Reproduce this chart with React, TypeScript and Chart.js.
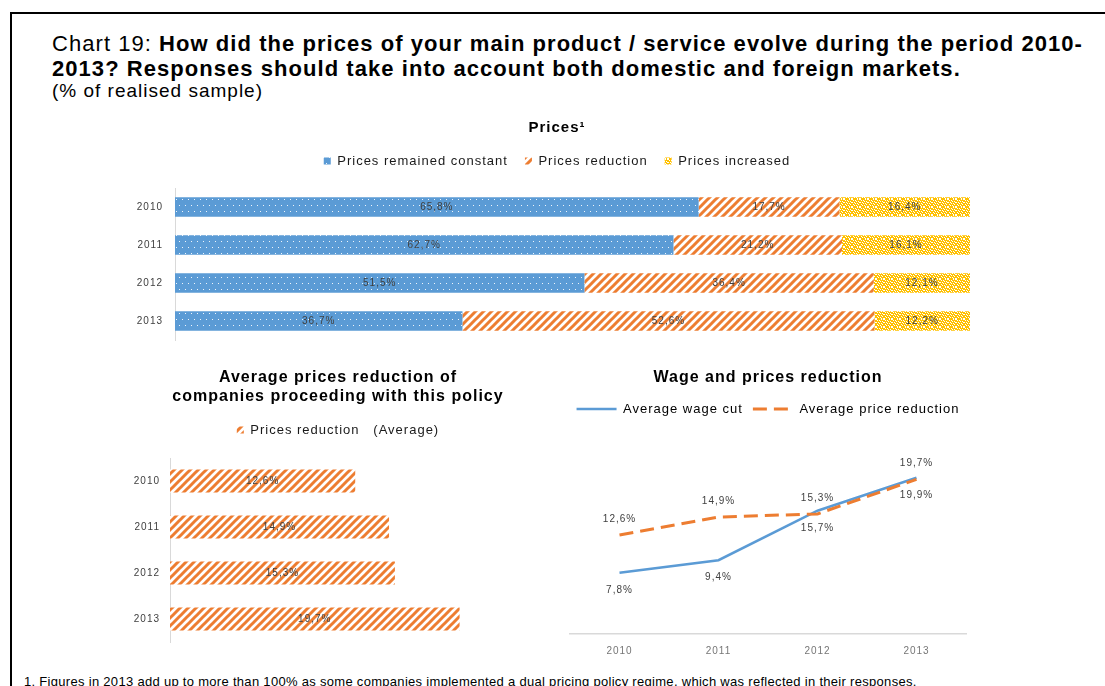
import React, { useEffect, useRef } from "react";
import { Chart, registerables } from "chart.js";

Chart.register(...registerables);

const FONT = "'Liberation Sans', Arial, Helvetica, sans-serif";
Chart.defaults.font.family = FONT;

// ---------- data ----------
const years = ["2010", "2011", "2012", "2013"];
const priceSeriesNames = ["Prices remained constant", "Prices reduction", "Prices increased"];
const pricesConstant = [65.8, 62.7, 51.5, 36.7];
const pricesReduction = [17.7, 21.2, 36.4, 52.6];
const pricesIncreased = [16.4, 16.1, 12.1, 12.2];

const avgSeriesName = "Prices reduction   (Average)";
const avgPriceReduction = [12.6, 14.9, 15.3, 19.7];

const lineSeriesNames = ["Average wage cut", "Average price reduction"];
const avgWageCut = [7.8, 9.4, 15.7, 19.9];
const avgPriceCut = [12.6, 14.9, 15.3, 19.7];

// ---------- styles ----------
const BLUE = "#5B9BD5";
const ORANGE = "#ED7D31";
const YELLOW = "#FFC000";
const LABEL_COLOR = "#404040";
const TICK_COLOR = "#404040";
const XTICK_COLOR = "#767676";
const AXIS_COLOR = "#D9D9D9";
const LEGEND_COLOR = "#1a1a1a";

const fmt = (v: number) => v.toFixed(1).replace(".", ",") + "%";

function makePattern(w: number, h: number, draw: (ctx: CanvasRenderingContext2D) => void): any {
  const c = document.createElement("canvas");
  c.width = w;
  c.height = h;
  const ctx = c.getContext("2d");
  if (!ctx) return "#999";
  draw(ctx);
  return ctx.createPattern(c, "repeat") || "#999";
}

const bluePattern = () =>
  makePattern(6, 12, (ctx) => {
    ctx.fillStyle = BLUE;
    ctx.fillRect(0, 0, 6, 12);
    ctx.fillStyle = "rgba(255,255,255,0.9)";
    ctx.fillRect(1, 2, 1, 1);
    ctx.fillRect(4, 8, 1, 1);
  });

const stripePattern = () =>
  makePattern(8, 8, (ctx) => {
    ctx.fillStyle = "#fff";
    ctx.fillRect(0, 0, 8, 8);
    ctx.strokeStyle = ORANGE;
    ctx.lineWidth = 3;
    ctx.beginPath();
    ctx.moveTo(-2, 2);
    ctx.lineTo(2, -2);
    ctx.moveTo(-2, 10);
    ctx.lineTo(10, -2);
    ctx.moveTo(6, 10);
    ctx.lineTo(10, 6);
    ctx.stroke();
  });

const confettiPattern = () =>
  makePattern(8, 8, (ctx) => {
    ctx.fillStyle = YELLOW;
    ctx.fillRect(0, 0, 8, 8);
    ctx.fillStyle = "#fff";
    for (let y = 0; y < 8; y++)
      for (let x = 0; x < 8; x++) if ((x * 3 + y * 5) % 7 < 2) ctx.fillRect(x, y, 1, 1);
  });

const spacingPlugin = {
  id: "letterSpacing",
  beforeUpdate(chart: any) {
    chart.ctx.letterSpacing = "1px";
  },
  beforeDraw(chart: any) {
    chart.ctx.letterSpacing = "1px";
  },
};

const valueLabelPlugin = {
  id: "valueLabels",
  afterDatasetsDraw(chart: any, _args: any, opts: any) {
    const ctx = chart.ctx;
    ctx.save();
    ctx.font = opts.font;
    ctx.fillStyle = opts.color;
    ctx.textAlign = "center";
    ctx.textBaseline = "middle";
    chart.data.datasets.forEach((ds: any, di: number) => {
      const meta = chart.getDatasetMeta(di);
      const values = ds.labelValues || ds.data;
      meta.data.forEach((el: any, i: number) => {
        const v = values[i];
        if (v == null) return;
        let x: number;
        let y: number;
        if (opts.mode === "bar") {
          x = (el.x + el.base) / 2;
          y = el.y;
        } else {
          x = el.x;
          y = el.y + (ds.labelOffset || 0);
        }
        ctx.fillText(fmt(v), x, y);
      });
    });
    ctx.restore();
  },
};

const spacerAxis = (position: string, size: number, extra: any = {}) => ({
  position,
  display: true,
  grid: { display: false, drawTicks: false },
  border: { display: false },
  ticks: { display: false },
  afterFit: (s: any) => {
    if (position === "top" || position === "bottom") s.height = size;
    else s.width = size;
  },
  ...extra,
});

export default function App() {
  const topRef = useRef<HTMLCanvasElement>(null);
  const leftRef = useRef<HTMLCanvasElement>(null);
  const rightRef = useRef<HTMLCanvasElement>(null);

  useEffect(() => {
    const charts: Chart[] = [];
    const rowTotals = years.map((_, i) => pricesConstant[i] + pricesReduction[i] + pricesIncreased[i]);
    const toShare = (arr: number[]) => arr.map((v, i) => (v / rowTotals[i]) * 100);

    if (topRef.current) {
      charts.push(
        new Chart(topRef.current, {
          type: "bar",
          data: {
            labels: years,
            datasets: [
              { label: priceSeriesNames[0], data: toShare(pricesConstant), labelValues: pricesConstant, backgroundColor: bluePattern(), borderWidth: 0, barPercentage: 0.51, categoryPercentage: 1 } as any,
              { label: priceSeriesNames[1], data: toShare(pricesReduction), labelValues: pricesReduction, backgroundColor: stripePattern(), borderWidth: 0, barPercentage: 0.51, categoryPercentage: 1 } as any,
              { label: priceSeriesNames[2], data: toShare(pricesIncreased), labelValues: pricesIncreased, backgroundColor: confettiPattern(), borderWidth: 0, barPercentage: 0.51, categoryPercentage: 1 } as any,
            ],
          },
          options: {
            indexAxis: "y",
            animation: false,
            responsive: false,
            events: [],
            layout: { padding: { left: 30, right: 10, top: 0, bottom: 5 } },
            plugins: {
              title: {
                display: true,
                text: "Prices¹",
                color: "#000",
                font: { size: 15, weight: "bold", lineHeight: 1.2 },
                padding: { top: 0, bottom: 0.5 },
              },
              legend: {
                display: true,
                position: "top",
                labels: { boxWidth: 7, boxHeight: 7, padding: 17, color: LEGEND_COLOR, font: { size: 13 } },
              },
              tooltip: { enabled: false },
              valueLabels: { font: `10px ${FONT}`, color: LABEL_COLOR, mode: "bar" },
            } as any,
            scales: {
              x: spacerAxis("top", 10.5, { type: "linear", stacked: true, min: 0, max: 100 }),
              y: {
                stacked: true,
                grid: { display: false, drawTicks: false },
                border: { display: true, color: AXIS_COLOR, width: 1 },
                ticks: { color: TICK_COLOR, font: { size: 10 }, padding: 12 },
                afterFit: (s: any) => {
                  s.width = 45;
                },
              },
              xRightSpacer: spacerAxis("right", 14, { type: "linear", min: 0, max: 1 }),
            } as any,
          },
          plugins: [spacingPlugin, valueLabelPlugin],
        } as any)
      );
    }

    if (leftRef.current) {
      charts.push(
        new Chart(leftRef.current, {
          type: "bar",
          data: {
            labels: years,
            datasets: [
              { label: avgSeriesName, data: avgPriceReduction, backgroundColor: stripePattern(), borderWidth: 0, barPercentage: 0.505, categoryPercentage: 1 } as any,
            ],
          },
          options: {
            indexAxis: "y",
            animation: false,
            responsive: false,
            events: [],
            layout: { padding: { left: 25, right: 0, top: 0, bottom: 6 } },
            plugins: {
              title: {
                display: true,
                text: ["Average prices reduction of", "companies proceeding with this policy"],
                color: "#000",
                font: { size: 16, weight: "bold", lineHeight: 1.1875 },
                padding: { top: 0.5, bottom: 7 },
              },
              legend: {
                display: true,
                position: "top",
                labels: { boxWidth: 7, boxHeight: 7, padding: 10, color: LEGEND_COLOR, font: { size: 13 } },
              },
              tooltip: { enabled: false },
              valueLabels: { font: `10px ${FONT}`, color: LABEL_COLOR, mode: "bar" },
            } as any,
            scales: {
              x: spacerAxis("top", 11.5, { type: "linear", min: 0, max: 25 }),
              y: {
                grid: { display: false, drawTicks: false },
                border: { display: true, color: AXIS_COLOR, width: 1 },
                ticks: { color: TICK_COLOR, font: { size: 10 }, padding: 10 },
                afterFit: (s: any) => {
                  s.width = 45;
                },
              },
              xRightSpacer: spacerAxis("right", 13.5, { type: "linear", min: 0, max: 1 }),
            } as any,
          },
          plugins: [spacingPlugin, valueLabelPlugin],
        } as any)
      );
    }

    if (rightRef.current) {
      charts.push(
        new Chart(rightRef.current, {
          type: "line",
          data: {
            labels: years,
            datasets: [
              { label: lineSeriesNames[0], data: avgWageCut, borderColor: BLUE, backgroundColor: BLUE, borderWidth: 2.5, pointRadius: 0, tension: 0, fill: false, order: 1, labelOffset: 17 } as any,
              { label: lineSeriesNames[1], data: avgPriceCut, borderColor: ORANGE, backgroundColor: ORANGE, borderWidth: 3, borderDash: [14, 7], pointRadius: 0, tension: 0, fill: false, order: 0, labelOffset: -16 } as any,
            ],
          },
          options: {
            animation: false,
            responsive: false,
            events: [],
            layout: { padding: { left: 10, right: 10, top: 0, bottom: 0 } },
            plugins: {
              title: {
                display: true,
                text: "Wage and prices reduction",
                color: "#000",
                font: { size: 16, weight: "bold", lineHeight: 1.2 },
                padding: { top: 0.4, bottom: 4.9 },
              },
              legend: {
                display: true,
                position: "top",
                labels: {
                  usePointStyle: true,
                  pointStyleWidth: 40,
                  boxHeight: 10,
                  padding: 10,
                  color: LEGEND_COLOR,
                  font: { size: 13 },
                  generateLabels: (chart: any) =>
                    chart.data.datasets.map((ds: any, i: number) => ({
                      text: ds.label,
                      fillStyle: "rgba(0,0,0,0)",
                      strokeStyle: ds.borderColor,
                      lineWidth: ds.borderWidth,
                      lineDash: ds.borderDash || [],
                      pointStyle: "line",
                      hidden: false,
                      datasetIndex: i,
                    })),
                },
              },
              tooltip: { enabled: false },
              valueLabels: { font: `10px ${FONT}`, color: LABEL_COLOR, mode: "point" },
            } as any,
            scales: {
              x: {
                type: "category",
                position: "bottom",
                offset: true,
                grid: { display: false, drawTicks: false },
                border: { display: true, color: AXIS_COLOR, width: 1.5 },
                ticks: { color: XTICK_COLOR, font: { size: 10 }, padding: 11 },
                afterFit: (s: any) => {
                  s.height = 36;
                },
              },
              xTop: spacerAxis("top", 12.25, { type: "category" }),
              y: spacerAxis("left", 20, { type: "linear", min: 0, max: 25 }),
              yRight: spacerAxis("right", 20, { type: "linear", min: 0, max: 25 }),
            } as any,
          },
          plugins: [spacingPlugin, valueLabelPlugin],
        } as any)
      );
    }

    return () => charts.forEach((c) => c.destroy());
  }, []);

  return (
    <div
      style={{
        position: "fixed",
        left: 0,
        top: 0,
        width: 1105,
        height: 686,
        overflow: "hidden",
        background: "#fff",
        fontFamily: FONT,
        color: "#000",
      }}
    >
      <div
        style={{
          position: "absolute",
          left: 10,
          top: 12,
          width: 1100,
          height: 700,
          borderTop: "2px solid #000",
          borderLeft: "2px solid #000",
        }}
      />
      <div style={{ position: "absolute", left: 52, top: 31.7, fontSize: 22, lineHeight: "24px", letterSpacing: "1.05px", whiteSpace: "nowrap" }}>
        <span style={{ fontWeight: 400 }}>Chart 19: </span>
        <span style={{ fontWeight: 700 }}>How did the prices of your main product / service evolve during the period 2010-</span>
      </div>
      <div style={{ position: "absolute", left: 52, top: 56.7, fontSize: 22, lineHeight: "24px", letterSpacing: "1.05px", fontWeight: 700, whiteSpace: "nowrap" }}>
        2013? Responses should take into account both domestic and foreign markets.
      </div>
      <div style={{ position: "absolute", left: 52, top: 80, fontSize: 19, lineHeight: "22px", letterSpacing: "1px", whiteSpace: "nowrap" }}>
        (% of realised sample)
      </div>

      <canvas ref={topRef} width={894} height={239} style={{ position: "absolute", left: 100, top: 119, width: 894, height: 239 }} />
      <canvas ref={leftRef} width={451} height={290} style={{ position: "absolute", left: 100, top: 368, width: 451, height: 290 }} />
      <canvas ref={rightRef} width={456} height={302} style={{ position: "absolute", left: 540, top: 368, width: 456, height: 302 }} />

      <div style={{ position: "absolute", left: 24, top: 674, fontSize: 13, lineHeight: "15px", letterSpacing: "0.3px", whiteSpace: "nowrap" }}>
        1. Figures in 2013 add up to more than 100% as some companies implemented a dual pricing policy regime, which was reflected in their responses.
      </div>
    </div>
  );
}
